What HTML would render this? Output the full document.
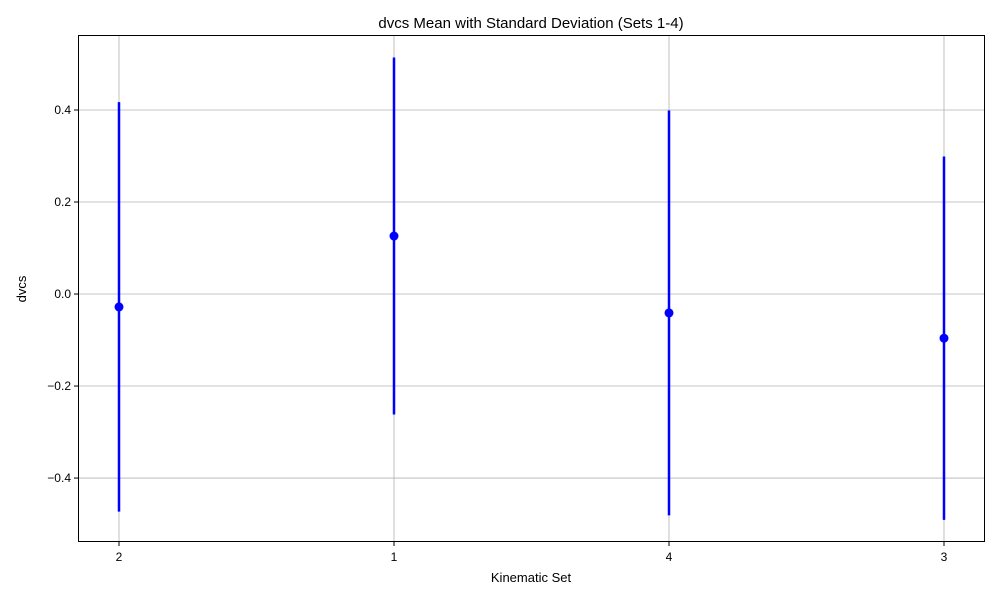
<!DOCTYPE html>
<html><head><meta charset="utf-8"><style>
body{margin:0;background:#fff;font-family:"Liberation Sans","DejaVu Sans",sans-serif}
</style></head><body>
<svg id="chart" width="1000" height="600" xmlns="http://www.w3.org/2000/svg">
<rect width="1000" height="600" fill="#fff"/>
<text x="531" y="28" font-size="15" text-anchor="middle">dvcs Mean with Standard Deviation (Sets 1-4)</text>
<g id="grid"></g>
<g id="marks"></g>
<rect x="78.5" y="35.5" width="906" height="506" fill="none" stroke="#000" stroke-width="1"/>
<g id="ticks" font-size="12"></g>
<text x="531" y="582" font-size="13" text-anchor="middle">Kinematic Set</text>
<text transform="translate(26,289) rotate(-90)" font-size="13" text-anchor="middle">dvcs</text>
</svg>
<script>
const categories = ["2","1","4","3"];
const means = [-0.028, 0.126, -0.041, -0.096];
const stds = [0.445, 0.388, 0.44, 0.395];
const yTicks = [-0.4, -0.2, 0.0, 0.2, 0.4];
const yTickLabels = ["\u22120.4","\u22120.2","0.0","0.2","0.4"];

const NS="http://www.w3.org/2000/svg";
const L=78,R=985,T=35,B=542;
const yMin=-0.539,yMax=0.563;
function y(v){return B-(v-yMin)/(yMax-yMin)*(B-T);}
function x(i){return L+41+i*(R-L-82)/(categories.length-1);}
function mk(tag,attrs,parent){const e=document.createElementNS(NS,tag);for(const k in attrs)e.setAttribute(k,attrs[k]);parent.appendChild(e);return e;}
const grid=document.getElementById('grid'),marks=document.getElementById('marks'),ticks=document.getElementById('ticks');
yTicks.forEach((v,i)=>{
  const g=mk('line',{x1:L,x2:R,y1:y(v),y2:y(v),stroke:'#b0b0b0','stroke-width':0.8},grid);
  
  
  mk('line',{x1:L-4,x2:L,y1:y(v),y2:y(v),stroke:'#000'},ticks);
  const t=mk('text',{x:L-7,y:y(v)+4,'text-anchor':'end'},ticks);
  t.textContent=yTickLabels[i];
  
  
});
categories.forEach((c,i)=>{
  const g=mk('line',{x1:x(i),x2:x(i),y1:T,y2:B,stroke:'#b0b0b0','stroke-width':0.8},grid);
  
  
  mk('line',{x1:x(i),x2:x(i),y1:B,y2:B+4,stroke:'#000'},ticks);
  const t=mk('text',{x:x(i),y:B+19,'text-anchor':'middle'},ticks);
  t.textContent=c;
  
  
  const e=mk('line',{x1:x(i),x2:x(i),y1:y(means[i]+stds[i]),y2:y(means[i]-stds[i]),stroke:'#0000ff','stroke-width':2.5},marks);
  
  
  const p=mk('circle',{cx:x(i),cy:y(means[i]),r:4.5,fill:'#0000ff'},marks);
  
  
});
</script>
</body></html>
